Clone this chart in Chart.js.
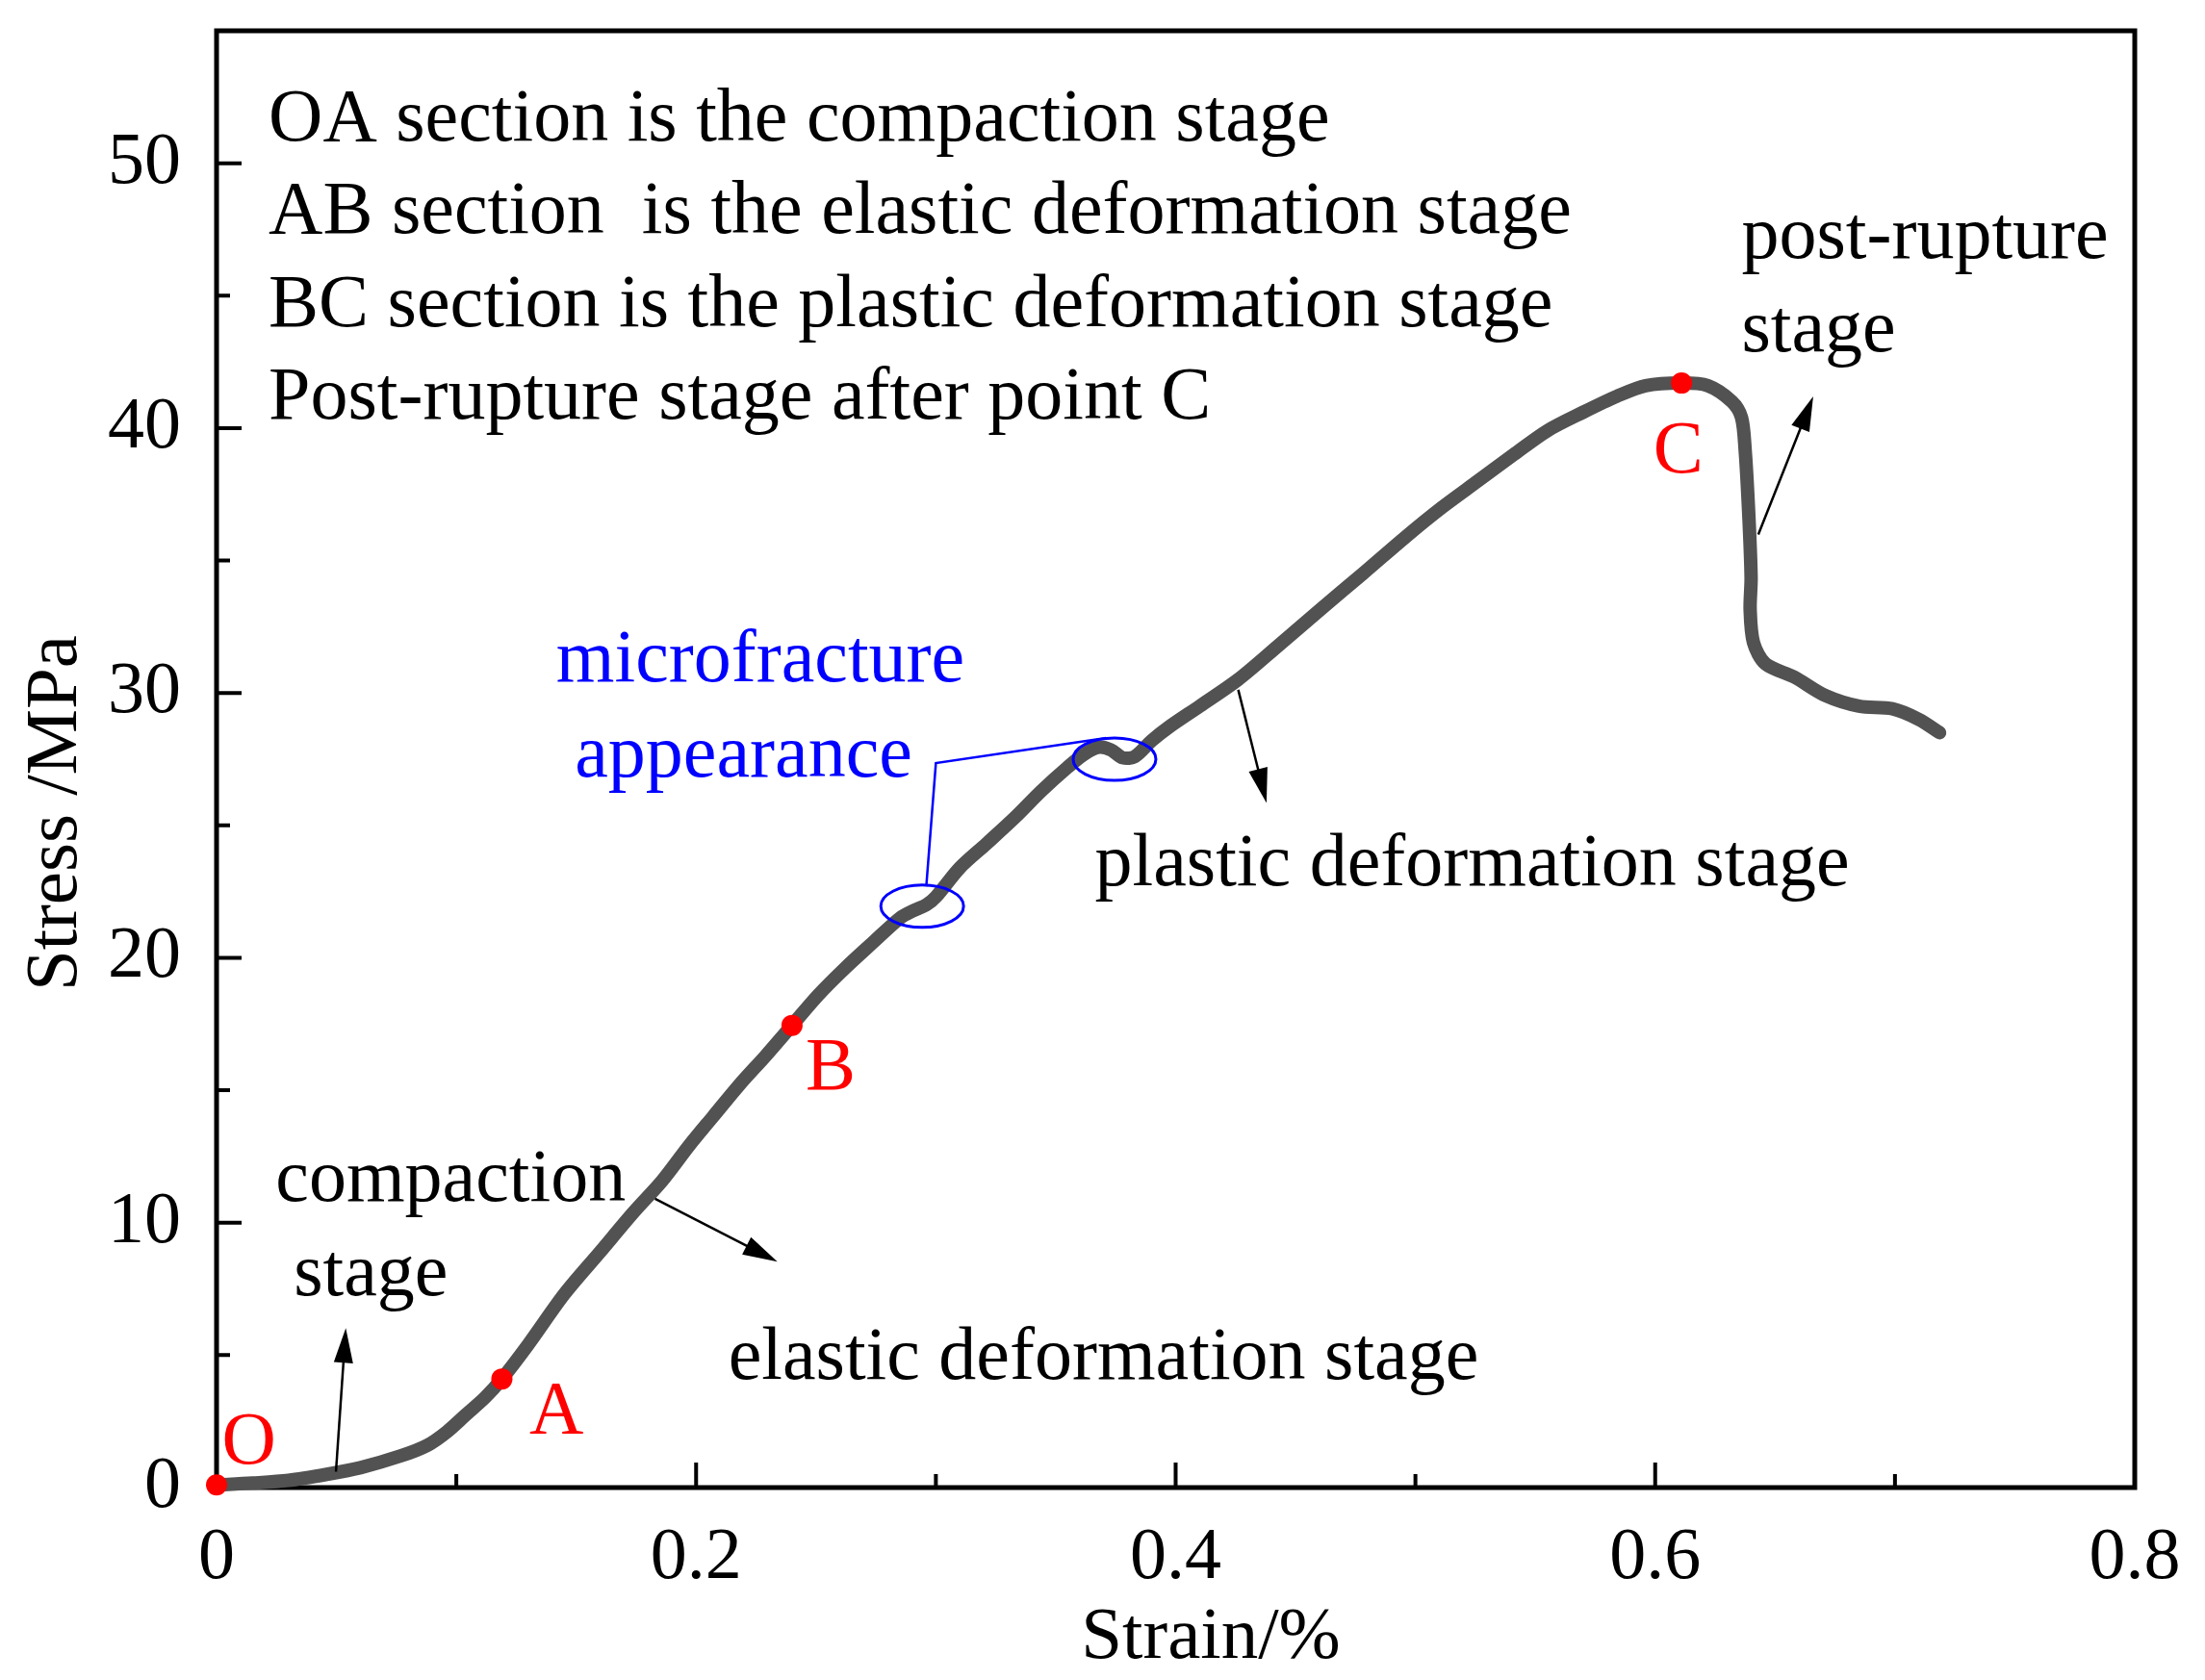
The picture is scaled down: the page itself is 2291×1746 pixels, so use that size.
<!DOCTYPE html>
<html><head><meta charset="utf-8">
<script src="https://cdn.jsdelivr.net/npm/chart.js@4.4.1/dist/chart.umd.min.js"></script>
<style>html,body{margin:0;padding:0;background:#fff;}canvas{display:block;}</style>
</head><body>
<canvas id="c" width="2291" height="1746"></canvas>
<script>
// ---- data ----
const strain = [0, 0.015, 0.03, 0.046, 0.06, 0.077, 0.088, 0.096, 0.104, 0.112, 0.119, 0.13, 0.145, 0.16, 0.174, 0.186, 0.197, 0.207, 0.218, 0.229, 0.240, 0.251, 0.262, 0.274, 0.285, 0.291, 0.296, 0.300, 0.310, 0.321, 0.333, 0.344, 0.355, 0.362, 0.368, 0.373, 0.378, 0.383, 0.390, 0.397, 0.410, 0.426, 0.443, 0.461, 0.478, 0.496, 0.511, 0.526, 0.541, 0.555, 0.570, 0.584, 0.596, 0.611, 0.622, 0.632, 0.636, 0.6375, 0.639, 0.640, 0.6396, 0.641, 0.646, 0.658, 0.671, 0.685, 0.699, 0.710, 0.7186];
const stress = [0.1, 0.17, 0.27, 0.5, 0.75, 1.2, 1.6, 2.1, 2.75, 3.4, 4.1, 5.4, 7.3, 8.9, 10.4, 11.6, 12.9, 14.0, 15.2, 16.3, 17.45, 18.6, 19.6, 20.6, 21.5, 21.8, 22.0, 22.3, 23.4, 24.3, 25.3, 26.3, 27.2, 27.7, 27.95, 27.85, 27.55, 27.6, 28.2, 28.7, 29.5, 30.5, 31.8, 33.2, 34.5, 35.9, 37.0, 38.0, 39.0, 39.9, 40.6, 41.2, 41.6, 41.7, 41.6, 41.0, 40.4, 39.2, 36.8, 34.35, 33.15, 31.9, 31.1, 30.6, 29.9, 29.5, 29.4, 29.0, 28.5];
const keyLabels = ['O', 'A', 'B', 'C'];
const keyStrain = [0, 0.119, 0.240, 0.611];
const keyStress = [0.1, 4.1, 17.45, 41.7];
const xTickValues = [0, 0.2, 0.4, 0.6, 0.8];
const yTickValues = [0, 10, 20, 30, 40, 50];
const xMinorTicks = [0.1, 0.3, 0.5, 0.7];
const yMinorTicks = [5, 15, 25, 35, 45];
const stageNotes = ['OA section is the compaction stage', 'AB section  is the elastic deformation stage', 'BC section is the plastic deformation stage', 'Post-rupture stage after point C'];
const xTitle = 'Strain/%';
const yTitle = 'Stress /MPa';

// ---- annotation layout (data coordinates) ----
const FONT = '"Liberation Serif", "Times New Roman", serif';
const notesAt = {x: 0.0217, y: [51.6, 48.1, 44.6, 41.1]};
const texts = [
  {t: 'microfracture', x: 0.2268, y: 31.18, align: 'center', color: '#0000ff'},
  {t: 'appearance', x: 0.2198, y: 27.6, align: 'center', color: '#0000ff'},
  {t: 'post-rupture', x: 0.636, y: 47.17, align: 'left', color: '#000'},
  {t: 'stage', x: 0.636, y: 43.66, align: 'left', color: '#000'},
  {t: 'plastic deformation stage', x: 0.3663, y: 23.5, align: 'left', color: '#000'},
  {t: 'elastic deformation stage', x: 0.2134, y: 4.85, align: 'left', color: '#000'},
  {t: 'compaction', x: 0.0246, y: 11.57, align: 'left', color: '#000'},
  {t: 'stage', x: 0.0322, y: 8.0, align: 'left', color: '#000'}
];
const keyLabelPos = [[0.0135, 1.65], [0.1418, 2.83], [0.2561, 15.78], [0.6096, 39.07]];
const arrows = [
  [0.0498, 0.6, 0.0539, 6.02],
  [0.1829, 10.9, 0.2339, 8.53],
  [0.4261, 30.12, 0.4379, 25.85],
  [0.643, 35.98, 0.6659, 41.2]
];
const ellipses = [[0.2943, 21.95], [0.3745, 27.5]];
const connector = [[0.296, 22.7], [0.300, 27.35], [0.371, 28.3]];

function drawArrow(ctx, x1, y1, x2, y2) {
  const ang = Math.atan2(y2 - y1, x2 - x1), L = 36, W = 10;
  const c = Math.cos(ang), s = Math.sin(ang);
  ctx.beginPath(); ctx.moveTo(x1, y1); ctx.lineTo(x2 - L * 0.7 * c, y2 - L * 0.7 * s); ctx.stroke();
  ctx.beginPath(); ctx.moveTo(x2, y2);
  ctx.lineTo(x2 - L * c + W * s, y2 - L * s - W * c);
  ctx.lineTo(x2 - L * c - W * s, y2 - L * s + W * c);
  ctx.closePath(); ctx.fill();
}

const decor = {
  id: 'decor',
  beforeDatasetsDraw(chart) {
    const {ctx, chartArea: a, scales: {x, y}} = chart;
    ctx.save();
    ctx.strokeStyle = '#000';
    ctx.lineWidth = 5;
    ctx.strokeRect(a.left, a.top, a.right - a.left, a.bottom - a.top);
    ctx.lineWidth = 4;
    ctx.beginPath();
    xTickValues.forEach(v => { const px = x.getPixelForValue(v); ctx.moveTo(px, a.bottom); ctx.lineTo(px, a.bottom - 26); });
    xMinorTicks.forEach(v => { const px = x.getPixelForValue(v); ctx.moveTo(px, a.bottom); ctx.lineTo(px, a.bottom - 14); });
    yTickValues.forEach(v => { const py = y.getPixelForValue(v); ctx.moveTo(a.left, py); ctx.lineTo(a.left + 26, py); });
    yMinorTicks.forEach(v => { const py = y.getPixelForValue(v); ctx.moveTo(a.left, py); ctx.lineTo(a.left + 14, py); });
    ctx.stroke();
    ctx.restore();
  },
  afterDatasetsDraw(chart) {
    const {ctx, scales: {x, y}} = chart;
    const X = v => x.getPixelForValue(v), Y = v => y.getPixelForValue(v);
    ctx.save();
    ctx.fillStyle = '#ff0000';
    keyStrain.forEach((v, i) => { ctx.beginPath(); ctx.arc(X(v), Y(keyStress[i]), 11, 0, Math.PI * 2); ctx.fill(); });
    ctx.font = '78px ' + FONT;
    ctx.textBaseline = 'middle';
    ctx.fillStyle = '#000';
    ctx.textAlign = 'left';
    stageNotes.forEach((t, i) => ctx.fillText(t, X(notesAt.x), Y(notesAt.y[i])));
    texts.forEach(o => { ctx.fillStyle = o.color; ctx.textAlign = o.align; ctx.fillText(o.t, X(o.x), Y(o.y)); });
    ctx.fillStyle = '#ff0000'; ctx.textAlign = 'center';
    keyLabels.forEach((t, i) => ctx.fillText(t, X(keyLabelPos[i][0]), Y(keyLabelPos[i][1])));
    ctx.strokeStyle = '#000'; ctx.fillStyle = '#000'; ctx.lineWidth = 2.5;
    arrows.forEach(r => drawArrow(ctx, X(r[0]), Y(r[1]), X(r[2]), Y(r[3])));
    ctx.strokeStyle = '#0000ff'; ctx.lineWidth = 3;
    ellipses.forEach(e => { ctx.beginPath(); ctx.ellipse(X(e[0]), Y(e[1]), 43, 22, 0, 0, Math.PI * 2); ctx.stroke(); });
    ctx.lineWidth = 2.5;
    ctx.beginPath();
    connector.forEach((p, i) => { if (i === 0) ctx.moveTo(X(p[0]), Y(p[1])); else ctx.lineTo(X(p[0]), Y(p[1])); });
    ctx.stroke();
    ctx.fillStyle = '#000'; ctx.font = '77px ' + FONT; ctx.textAlign = 'center';
    ctx.fillText(xTitle, 1258, 1703);
    ctx.translate(59, 845); ctx.rotate(-Math.PI / 2);
    ctx.fillText(yTitle, 0, 0);
    ctx.restore();
  }
};

new Chart(document.getElementById('c'), {
  type: 'scatter',
  data: {
    datasets: [
      {data: strain.map((v, i) => ({x: v, y: stress[i]})), showLine: true, borderColor: '#525252', borderWidth: 14,
       pointRadius: 0, borderCapStyle: 'round', borderJoinStyle: 'round', tension: 0.3, clip: false}
    ]
  },
  options: {
    responsive: false, animation: false, devicePixelRatio: 1,
    layout: {padding: {top: 32, right: 73, left: 0, bottom: 0}},
    plugins: {legend: {display: false}, tooltip: {enabled: false}},
    scales: {
      x: {type: 'linear', min: 0, max: 0.8,
        afterBuildTicks: s => { s.ticks = xTickValues.map(v => ({value: v})); },
        afterFit: s => { s.height = 200; s.paddingLeft = 0; s.paddingRight = 0; },
        grid: {display: false, drawTicks: false}, border: {display: false},
        ticks: {font: {family: FONT, size: 76}, color: '#000', padding: 28, maxRotation: 0, autoSkip: false, callback: v => String(v)}},
      y: {type: 'linear', min: 0, max: 55,
        afterBuildTicks: s => { s.ticks = yTickValues.map(v => ({value: v})); },
        afterFit: s => { s.width = 225; s.paddingTop = 0; s.paddingBottom = 0; },
        grid: {display: false, drawTicks: false}, border: {display: false},
        ticks: {font: {family: FONT, size: 76}, color: '#000', padding: 37, autoSkip: false, callback: v => String(v)}}
    }
  },
  plugins: [decor]
});
</script>
</body></html>
